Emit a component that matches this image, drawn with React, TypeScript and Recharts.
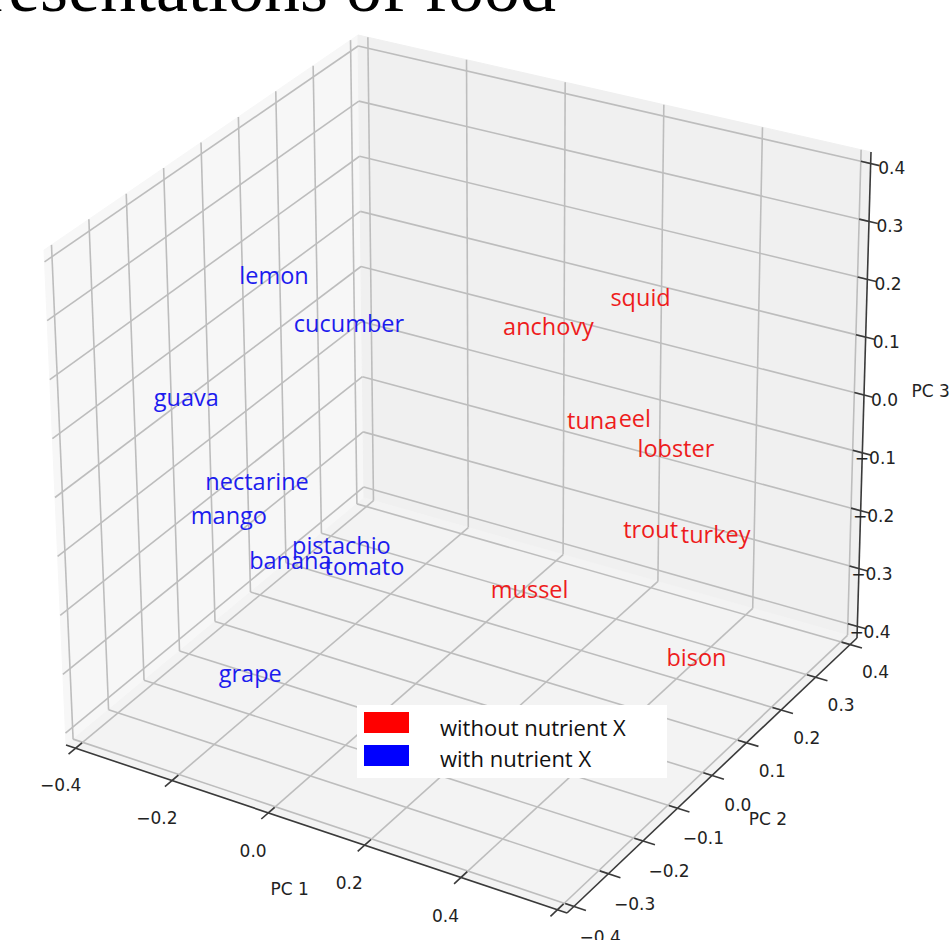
import { ScatterChart, Scatter, XAxis, YAxis, ReferenceLine } from 'recharts';

const TITLE = 'representations of food';

// foods that contain nutrient X (blue)
const WITH_X_FOODS = ['lemon', 'cucumber', 'guava', 'nectarine', 'mango', 'pistachio', 'banana', 'tomato', 'grape'];
const WITH_X_PC1 = [-0.312, -0.279, -0.303, -0.279, -0.273, -0.179, -0.193, -0.15, -0.187];
const WITH_X_PC2 = [-0.05, 0.05, -0.3, -0.2, -0.25, -0.1, -0.2, -0.05, -0.3];
const WITH_X_PC3 = [0.221, 0.098, 0.129, -0.055, -0.089, -0.19, -0.17, -0.244, -0.311];

// foods without nutrient X (red)
const WITHOUT_X_FOODS = ['squid', 'anchovy', 'tuna', 'eel', 'lobster', 'trout', 'turkey', 'mussel', 'bison'];
const WITHOUT_X_PC1 = [0.256, 0.111, 0.278, 0.311, 0.422, 0.466, 0.477, 0.231, 0.522];
const WITHOUT_X_PC2 = [0.2, 0.1, 0.05, 0.15, 0.05, -0.05, 0.1, -0.1, 0.0];
const WITHOUT_X_PC3 = [0.189, 0.158, 0.059, 0.018, 0.045, -0.03, -0.115, -0.164, -0.26];

const PC1_TICKS = [-0.4, -0.2, 0.0, 0.2, 0.4, 0.6];
const PC2_TICKS = [-0.4, -0.3, -0.2, -0.1, 0.0, 0.1, 0.2, 0.3, 0.4];
const PC3_TICKS = [-0.4, -0.3, -0.2, -0.1, 0.0, 0.1, 0.2, 0.3, 0.4];

const LEGEND_LABELS = ['without nutrient X', 'with nutrient X'];
const LEGEND_COLORS = ['#ff0000', '#0000ff'];

const W = 950;
const H = 940;

// box limits of the 3d axes
const XL = [-0.42, 0.62];
const YL = [-0.42, 0.42];
const ZL = [-0.42, 0.42];

// where the 8 box corners land in the view plane (index: x y z, 0 = min, 1 = max)
const VIEW: Record<string, [number, number]> = {
  '000': [66, 745],
  '100': [567, 913],
  '010': [364, 498],
  '110': [857, 638],
  '001': [44, 250],
  '101': [570, 400],
  '011': [358, 35],
  '111': [871, 152],
};

function project(x: number, y: number, z: number) {
  const a = (x - XL[0]) / (XL[1] - XL[0]);
  const b = (y - YL[0]) / (YL[1] - YL[0]);
  const c = (z - ZL[0]) / (ZL[1] - ZL[0]);
  let sx = 0;
  let sy = 0;
  for (const i of [0, 1]) {
    for (const j of [0, 1]) {
      for (const k of [0, 1]) {
        const w = (i ? a : 1 - a) * (j ? b : 1 - b) * (k ? c : 1 - c);
        const p = VIEW[`${i}${j}${k}`];
        sx += w * p[0];
        sy += w * p[1];
      }
    }
  }
  return { sx, sy };
}

type P3 = [number, number, number];

const poly = (pts: P3[]) => [...pts, pts[0]].map((p) => project(p[0], p[1], p[2]));

const panes = [
  { fill: '#f7f7f7', pts: poly([[XL[0], YL[0], ZL[0]], [XL[0], YL[1], ZL[0]], [XL[0], YL[1], ZL[1]], [XL[0], YL[0], ZL[1]]]) },
  { fill: '#f0f0f0', pts: poly([[XL[0], YL[1], ZL[0]], [XL[1], YL[1], ZL[0]], [XL[1], YL[1], ZL[1]], [XL[0], YL[1], ZL[1]]]) },
  { fill: '#f3f3f3', pts: poly([[XL[0], YL[0], ZL[0]], [XL[1], YL[0], ZL[0]], [XL[1], YL[1], ZL[0]], [XL[0], YL[1], ZL[0]]]) },
];

// grid lines on the three panes
const gridSegs: [P3, P3][] = [
  ...PC2_TICKS.map((v) => [[XL[0], v, ZL[0]], [XL[0], v, ZL[1]]] as [P3, P3]),
  ...PC3_TICKS.map((v) => [[XL[0], YL[0], v], [XL[0], YL[1], v]] as [P3, P3]),
  ...PC1_TICKS.map((v) => [[v, YL[1], ZL[0]], [v, YL[1], ZL[1]]] as [P3, P3]),
  ...PC3_TICKS.map((v) => [[XL[0], YL[1], v], [XL[1], YL[1], v]] as [P3, P3]),
  ...PC1_TICKS.map((v) => [[v, YL[0], ZL[0]], [v, YL[1], ZL[0]]] as [P3, P3]),
  ...PC2_TICKS.map((v) => [[XL[0], v, ZL[0]], [XL[1], v, ZL[0]]] as [P3, P3]),
];

// axis lines + tick marks
const axisSegs: [P3, P3][] = [
  [[XL[0], YL[0], ZL[0]], [XL[1], YL[0], ZL[0]]],
  [[XL[1], YL[0], ZL[0]], [XL[1], YL[1], ZL[0]]],
  [[XL[1], YL[1], ZL[0]], [XL[1], YL[1], ZL[1]]],
  ...PC1_TICKS.map((v) => [[v, YL[0] - 0.02, ZL[0]], [v, YL[0] + 0.018, ZL[0]]] as [P3, P3]),
  ...PC2_TICKS.map((v) => [[XL[1] - 0.018, v, ZL[0]], [XL[1] + 0.025, v, ZL[0]]] as [P3, P3]),
  ...PC3_TICKS.map((v) => [[XL[1] - 0.02, YL[1], v], [XL[1] + 0.018, YL[1], v]] as [P3, P3]),
];

const fmt = (v: number) => (v < -1e-9 ? '\u2212' : '') + Math.abs(v).toFixed(1);

const tickLabels = [
  ...PC1_TICKS.map((v) => ({ ...project(v, YL[0] - 0.045, ZL[0] - 0.04), name: fmt(v), anchor: 'middle' })),
  ...PC2_TICKS.map((v) => ({ ...project(XL[1] + 0.055, v, ZL[0] - 0.035), name: fmt(v), anchor: 'middle' })),
  ...PC3_TICKS.map((v) => ({ ...project(XL[1] + 0.07, YL[1], v + 0.006), name: fmt(v), anchor: 'end' })),
];

const axisNames = [
  { ...project(0.086, -0.48, -0.492), name: 'PC 1', anchor: 'middle' },
  { ...project(0.738, 0.0, -0.463), name: 'PC 2', anchor: 'middle' },
  { ...project(0.717, YL[1], 0.028), name: 'PC 3', anchor: 'start' },
];

const withX = WITH_X_FOODS.map((name, i) => ({ ...project(WITH_X_PC1[i], WITH_X_PC2[i], WITH_X_PC3[i]), name }));
const withoutX = WITHOUT_X_FOODS.map((name, i) => ({
  ...project(WITHOUT_X_PC1[i], WITHOUT_X_PC2[i], WITHOUT_X_PC3[i]),
  name,
}));

const noDot = () => <g />;

const foodLabel = (color: string) => (props: any) => (
  <text x={props.cx} y={props.cy} fill={color} fontSize={23.5} fontFamily='"Open Sans", sans-serif'>
    {props.payload.name}
  </text>
);

const axisText = (props: any) => (
  <text
    x={props.cx}
    y={props.cy}
    textAnchor={props.payload.anchor}
    dominantBaseline="central"
    fill="#222"
    fontSize={17}
    fontFamily='"DejaVu Sans", sans-serif'
  >
    {props.payload.name}
  </text>
);

export default function App() {
  return (
    <div style={{ position: 'absolute', left: 0, top: 0, width: W, height: H, background: '#fff', overflow: 'hidden' }}>
      <ScatterChart width={W} height={H} margin={{ top: 0, right: 0, bottom: 0, left: 0 }}>
        <XAxis type="number" dataKey="sx" domain={[0, W]} hide allowDataOverflow />
        <YAxis type="number" dataKey="sy" domain={[0, H]} reversed hide allowDataOverflow />
        {panes.map((p, i) => (
          <Scatter
            key={`pane-${i}`}
            data={p.pts}
            shape={noDot}
            line={{ fill: p.fill, stroke: p.fill, strokeWidth: 1 }}
            lineType="joint"
            isAnimationActive={false}
            zIndex={-500}
          />
        ))}
        {gridSegs.map((s, i) => {
          const p = project(...s[0]);
          const q = project(...s[1]);
          return (
            <ReferenceLine
              key={`grid-${i}`}
              segment={[{ x: p.sx, y: p.sy }, { x: q.sx, y: q.sy }]}
              stroke="#bdbdbd"
              strokeWidth={1.6}
              ifOverflow="visible"
            />
          );
        })}
        {axisSegs.map((s, i) => {
          const p = project(...s[0]);
          const q = project(...s[1]);
          return (
            <ReferenceLine
              key={`axis-${i}`}
              segment={[{ x: p.sx, y: p.sy }, { x: q.sx, y: q.sy }]}
              stroke="#3a3a3a"
              strokeWidth={1.6}
              ifOverflow="visible"
            />
          );
        })}
        <Scatter data={tickLabels} shape={axisText} isAnimationActive={false} zIndex={1500} />
        <Scatter data={axisNames} shape={axisText} isAnimationActive={false} zIndex={1500} />
        <Scatter data={withoutX} shape={foodLabel('#ee1c1c')} isAnimationActive={false} zIndex={1600} />
        <Scatter data={withX} shape={foodLabel('#1c1cee')} isAnimationActive={false} zIndex={1600} />
      </ScatterChart>
      <svg width={W} height={40} style={{ position: 'absolute', left: 0, top: 0 }}>
        <text x={556} y={11} textAnchor="end" fontSize={72} fontFamily='"Liberation Serif", serif' fill="#000">
          {TITLE}
        </text>
      </svg>
      <div
        style={{
          position: 'absolute',
          left: 357,
          top: 705,
          width: 310,
          height: 73,
          background: '#fff',
          fontFamily: '"Open Sans", sans-serif',
          fontSize: 22,
          color: '#111',
        }}
      >
        {LEGEND_LABELS.map((label, i) => (
          <div key={label}>
            <span
              style={{ position: 'absolute', left: 7, top: 7 + i * 33, width: 45, height: 21, background: LEGEND_COLORS[i] }}
            />
            <span
              style={{
                position: 'absolute',
                left: 83,
                top: 22 + i * 31 - 15,
                lineHeight: '30px',
                whiteSpace: 'nowrap',
              }}
            >
              {label}
            </span>
          </div>
        ))}
      </div>
    </div>
  );
}
